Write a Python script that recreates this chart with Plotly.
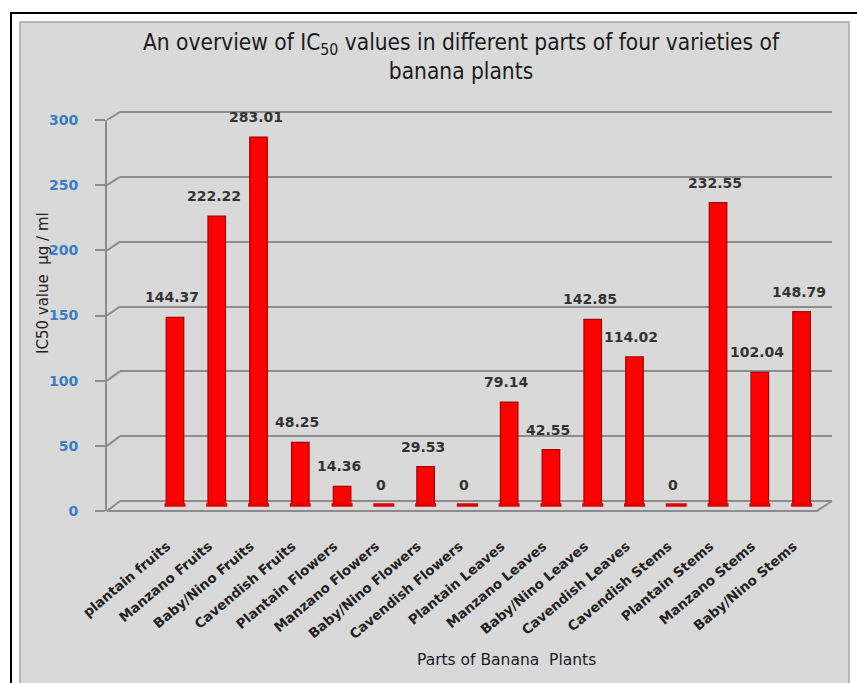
import plotly.graph_objects as go

categories = ["plantain fruits", "Manzano Fruits", "Baby/Nino Fruits", "Cavendish Fruits",
              "Plantain Flowers", "Manzano Flowers", "Baby/Nino Flowers", "Cavendish Flowers",
              "Plantain Leaves", "Manzano Leaves", "Baby/Nino Leaves", "Cavendish Leaves",
              "Cavendish Stems", "Plantain Stems", "Manzano Stems", "Baby/Nino Stems"]
values = [144.37, 222.22, 283.01, 48.25, 14.36, 0, 29.53, 0,
          79.14, 42.55, 142.85, 114.02, 0, 232.55, 102.04, 148.79]
value_labels = ["144.37", "222.22", "283.01", "48.25", "14.36", "0", "29.53", "0",
                "79.14", "42.55", "142.85", "114.02", "0", "232.55", "102.04", "148.79"]
y_ticks = [0, 50, 100, 150, 200, 250, 300]

W, H = 857, 683
L, R, T, B = 107, 835, 105, 515  # plot area in pixels
PW, PH = R - L, B - T


def px(xp):
    return (xp - L) / PW


def py(yp):
    return (B - yp) / PH


GRID = "#8c8c8c"
BG = "#d9d9d9"
FONT = "DejaVu Sans, Verdana, sans-serif"
NARROW = "Liberation Sans Narrow, DejaVu Sans Condensed, Arial Narrow, sans-serif"
X_RANGE = [-1.627, 15.80]
LABEL_SHIFT = 0.19  # category labels sit slightly left of the cylinders (3D projection)

fig = go.Figure()

# empty trace to hold the back-wall grid subplot
fig.add_trace(go.Scatter(x=[None], y=[None], xaxis="x", yaxis="y", showlegend=False, hoverinfo="skip"))

fig.add_trace(go.Bar(
    x=categories, y=values, xaxis="x2", yaxis="y2", width=0.42,
    marker=dict(color="#ff0000", line=dict(color="#a80000", width=1.2)),
    showlegend=False,
))
# rounded base discs of the cylinders (visible for zero values)
fig.add_trace(go.Scatter(
    x=categories, y=[0 for _ in values], xaxis="x2", yaxis="y2", mode="markers",
    marker=dict(symbol="line-ew", size=15, line=dict(color="#e00000", width=3.5)),
    showlegend=False, hoverinfo="skip",
))
# empty trace to hold the front value axis
fig.add_trace(go.Scatter(x=[None], y=[None], xaxis="x2", yaxis="y3", showlegend=False, hoverinfo="skip"))
# category label axis (no marks drawn)
fig.add_trace(go.Scatter(x=categories, y=[None for _ in categories], xaxis="x3", yaxis="y2",
                         mode="markers", showlegend=False, hoverinfo="skip"))

annotations = []
for c, v, t in zip(categories, values, value_labels):
    annotations.append(dict(
        x=c, y=v, xref="x2", yref="y2", text=t, showarrow=False,
        yanchor="bottom", yshift=10, xshift=-3,
        font=dict(family=FONT, size=14, color="#333333", weight="bold"),
    ))

annotations.append(dict(
    x=px(43), y=py(283), xref="paper", yref="paper", text="IC50 value  µg / ml",
    textangle=-90, showarrow=False, xanchor="center", yanchor="middle",
    font=dict(family=FONT, size=15, color="#222222"),
))
annotations.append(dict(
    x=px(506), y=py(660), xref="paper", yref="paper", text="Parts of Banana\u00a0 Plants",
    showarrow=False, xanchor="center", yanchor="middle",
    font=dict(family=FONT, size=15.5, color="#1a1a2a"),
))
annotations.append(dict(
    x=px(461), y=py(57), xref="paper", yref="paper",
    text="An overview of IC<sub>50</sub> values in different parts of four varieties of<br>banana plants",
    showarrow=False, xanchor="center", yanchor="middle", align="center",
    font=dict(family=NARROW, size=22.5, color="#1a1a1a"),
))

shapes = [
    dict(type="rect", xref="paper", yref="paper", x0=px(11), x1=px(880), y0=py(13), y1=py(720),
         line=dict(color="black", width=2), fillcolor="white", layer="below"),
    dict(type="rect", xref="paper", yref="paper", x0=px(20), x1=px(849), y0=py(22), y1=py(720),
         line=dict(color="#a6a6a6", width=1.5), fillcolor=BG, layer="below"),
    # floor of the 3D plot
    dict(type="path", xref="paper", yref="paper",
         path=f"M{px(107)},{py(511)} L{px(817)},{py(511)} L{px(832)},{py(501)}",
         line=dict(color=GRID, width=2), layer="below"),
]
# slanted connectors between front axis ticks and back-wall gridlines
for v in y_ticks:
    yf = 511 - v * (511 - 120) / 300
    yb = 501 - v * (501 - 112) / 300
    shapes.append(dict(type="line", xref="paper", yref="paper",
                       x0=px(107), y0=py(yf), x1=px(120), y1=py(yb),
                       line=dict(color=GRID, width=2), layer="below"))

fig.update_layout(
    width=W, height=H,
    margin=dict(l=L, r=W - R, t=T, b=H - B),
    paper_bgcolor="white", plot_bgcolor="rgba(0,0,0,0)",
    showlegend=False,
    # back-wall grid
    xaxis=dict(domain=[px(120), px(832)], visible=False, range=[0, 1], fixedrange=True),
    yaxis=dict(domain=[0, 1], anchor="x", range=[-10.80, 305.4], tickvals=y_ticks,
               showgrid=True, gridcolor=GRID, gridwidth=2, showticklabels=False,
               zeroline=False, showline=False, ticks=""),
    # bars
    xaxis2=dict(domain=[0, 1], anchor="y2", range=X_RANGE, type="category",
                categoryorder="array", categoryarray=categories,
                showticklabels=False, ticks="", showline=False, showgrid=False, zeroline=False),
    xaxis3=dict(overlaying="x2", anchor="y2", type="category",
                range=[X_RANGE[0] + LABEL_SHIFT, X_RANGE[1] + LABEL_SHIFT],
                categoryorder="array", categoryarray=categories,
                tickangle=-40, ticks="", showline=False, showgrid=False, zeroline=False,
                ticklabelstandoff=20,
                tickfont=dict(family=FONT, size=13.5, color="#222222", weight="bold")),
    yaxis2=dict(domain=[0, 1], anchor="x2", range=[-7.69, 307.69], showgrid=False,
                showticklabels=False, zeroline=False, showline=False, ticks=""),
    # front axis with labels
    yaxis3=dict(domain=[py(511), py(120)], anchor="x2", range=[0, 300], tickvals=y_ticks,
                showgrid=False, zeroline=False, showline=True, linecolor=GRID, linewidth=2,
                ticks="outside", ticklen=10, tickwidth=2, tickcolor=GRID,
                ticklabelstandoff=14,
                tickfont=dict(family=FONT, size=14, color="#3a7dc4", weight="bold")),
    annotations=annotations,
    shapes=shapes,
    bargap=0.5,
)

fig.write_html("out.html")
